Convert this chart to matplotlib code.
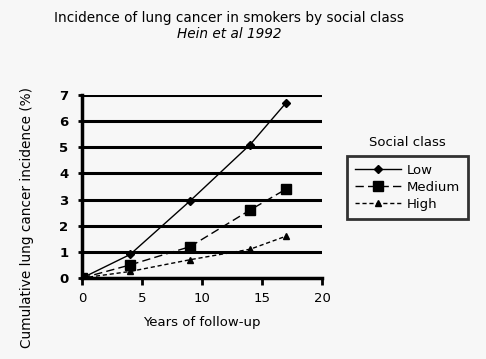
import matplotlib
matplotlib.use("Agg")
import matplotlib.pyplot as plt

years = [0, 4, 9, 14, 17]
low = [0, 0.9, 2.95, 5.1, 6.7]
medium = [0, 0.5, 1.2, 2.6, 3.4]
high = [0, 0.25, 0.7, 1.1, 1.6]
series_names = ["Low", "Medium", "High"]
x_ticks = [0, 5, 10, 15, 20]
y_ticks = [0, 1, 2, 3, 4, 5, 6, 7]

plt.rcParams['font.family'] = ['DejaVu Sans']

fig = plt.figure(figsize=(4.86, 3.59), dpi=100, facecolor='#f7f7f7')
ax = fig.add_axes([0.169, 0.2256, 0.4936, 0.5098])
ax.set_facecolor('#f7f7f7')

# gridlines are thick black rules in the original
for y in y_ticks[1:]:
    ax.axhline(y, color='black', lw=2.2, zorder=1)

ax.plot(years, low, color='black', lw=1.0, ls='-', marker='D', ms=4,
        label=series_names[0], zorder=3)
ax.plot(years, medium, color='black', lw=1.0, ls=(0, (6, 3)), marker='s', ms=7,
        label=series_names[1], zorder=3)
ax.plot(years, high, color='black', lw=1.0, ls=(0, (3, 2)), marker='^', ms=5,
        label=series_names[2], zorder=3)

ax.set_xlim(0, 20)
ax.set_ylim(0, 7)
ax.set_xticks(x_ticks)
ax.set_yticks(y_ticks)
ax.tick_params(axis='x', direction='out', length=5, width=2, labelsize=9.5, pad=5)
ax.tick_params(axis='y', direction='out', length=3, width=2, labelsize=9.5, pad=7)
for lab in ax.get_yticklabels():
    lab.set_fontweight('bold')

for side in ['top', 'right']:
    ax.spines[side].set_visible(False)
ax.spines['left'].set_linewidth(2.5)
ax.spines['bottom'].set_linewidth(2.5)

ax.set_xlabel("Years of follow-up", fontsize=9.5, labelpad=8)
fig.text(27 / 486, 1 - 217 / 359, "Cumulative lung cancer incidence (%)",
         rotation=90, ha='center', va='center', fontsize=9.8)

fig.text(0.471, 0.95, "Incidence of lung cancer in smokers by social class",
         ha='center', va='center', fontsize=9.8)
fig.text(0.471, 0.905, "Hein et al 1992", ha='center', va='center',
         fontsize=9.8, style='italic')

fig.text(407 / 486, 1 - 142 / 359, "Social class", ha='center', va='center', fontsize=9.5)
leg = fig.legend(loc='upper left', bbox_to_anchor=(347 / 486, 1 - 156 / 359),
                 borderaxespad=0, frameon=True, fancybox=False, fontsize=9.5,
                 handlelength=3.5, handletextpad=0.4, borderpad=0.6,
                 labelspacing=0.3)
leg.get_frame().set_edgecolor('black')
leg.get_frame().set_linewidth(2)
leg.get_frame().set_facecolor('#f7f7f7')

fig.savefig("out.png", dpi=100, facecolor=fig.get_facecolor())
